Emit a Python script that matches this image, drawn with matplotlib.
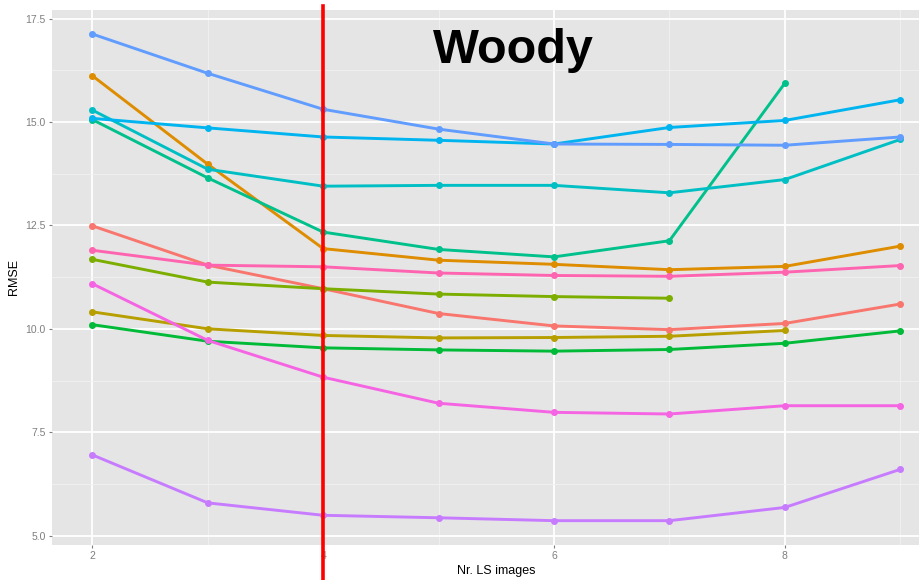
import matplotlib
matplotlib.use("Agg")
import matplotlib.pyplot as plt
import numpy as np

plt.rcParams['font.family'] = ['Liberation Sans', 'DejaVu Sans']

# Number of LS images used
n_images = [2, 3, 4, 5, 6, 7, 8, 9]

# RMSE per model run (runs that stop early are shorter)
rmse_a = [12.49, 11.54, 10.97, 10.37, 10.07, 9.98, 10.13, 10.60]
rmse_b = [16.12, 13.98, 11.94, 11.66, 11.56, 11.43, 11.51, 12.00]
rmse_c = [10.41, 10.00, 9.84, 9.78, 9.79, 9.82, 9.96]
rmse_d = [11.68, 11.13, 10.97, 10.84, 10.78, 10.74]
rmse_e = [10.10, 9.70, 9.54, 9.49, 9.46, 9.50, 9.65, 9.95]
rmse_f = [15.06, 13.65, 12.34, 11.92, 11.74, 12.13, 15.94]
rmse_g = [15.29, 13.86, 13.45, 13.47, 13.47, 13.29, 13.61, 14.58]
rmse_h = [15.09, 14.86, 14.64, 14.56, 14.47, 14.87, 15.04, 15.54]
rmse_i = [17.13, 16.18, 15.31, 14.83, 14.47, 14.46, 14.44, 14.64]
rmse_j = [6.95, 5.79, 5.49, 5.43, 5.36, 5.36, 5.68, 6.60]
rmse_k = [11.09, 9.72, 8.83, 8.20, 7.98, 7.94, 8.14, 8.14]
rmse_l = [11.90, 11.54, 11.50, 11.35, 11.29, 11.27, 11.37, 11.53]

series = [rmse_a, rmse_b, rmse_c, rmse_d, rmse_e, rmse_f,
          rmse_g, rmse_h, rmse_i, rmse_j, rmse_k, rmse_l]
colors = ['#F8766D', '#DE8C00', '#B79F00', '#7CAE00', '#00BA38', '#00C08B',
          '#00BFC4', '#00B4F0', '#619CFF', '#C77CFF', '#F564E3', '#FF64B0']

x_ticks = [2, 4, 6, 8]
y_ticks = [5.0, 7.5, 10.0, 12.5, 15.0, 17.5]
cutoff = 4
title = "Woody"

W, H = 919, 580
fig = plt.figure(figsize=(W / 100, H / 100), dpi=100)
ax_left, ax_bottom = 52 / W, 35 / H
ax_width, ax_height = 888.6 / W, 535.3 / H
ax = fig.add_axes([ax_left, ax_bottom, ax_width, ax_height])
ax.set_facecolor('#E5E5E5')
for s in ax.spines.values():
    s.set_visible(False)

# ggplot-style 5% expansion of the data range
all_vals = np.concatenate([np.asarray(s) for s in series])
ymin, ymax = all_vals.min(), all_vals.max()
ypad = 0.05 * (ymax - ymin)
xpad = 0.05 * (max(n_images) - min(n_images))
ax.set_xlim(min(n_images) - xpad, max(n_images) + xpad)
ax.set_ylim(ymin - ypad, ymax + ypad)

ax.set_xticks(x_ticks)
ax.set_xticks([3, 5, 7, 9], minor=True)
ax.set_yticks(y_ticks)
ax.set_yticklabels([f"{v:.1f}" for v in y_ticks])
ax.set_yticks([6.25, 8.75, 11.25, 13.75, 16.25], minor=True)
ax.grid(which='major', color='white', linewidth=1.3, zorder=0)
ax.grid(which='minor', color='#F2F2F2', linewidth=0.6, zorder=0)
ax.set_axisbelow(True)
ax.tick_params(which='major', length=2.5, width=0.8, color='#7F7F7F',
               labelcolor='#7F7F7F', labelsize=7.5, pad=2)
ax.tick_params(which='minor', length=0)

for vals, c in zip(series, colors):
    xs = n_images[:len(vals)]
    ax.plot(xs, vals, color=c, linewidth=2.1, marker='o', markersize=4,
            solid_capstyle='round', zorder=3)

ax.set_xlabel("Nr. LS images", fontsize=9, labelpad=3)
ax.set_ylabel("RMSE", fontsize=9, labelpad=4)

ax.text(5.65, 16.43, title, fontsize=35, fontweight='bold', ha='center',
        va='baseline', color='black', zorder=5)

# vertical marker running from the top of the figure to its bottom edge
top_frac = (1 - 6 / H - ax_bottom) / ax_height
bot_frac = -ax_bottom / ax_height
ax.axvline(cutoff, ymin=bot_frac, ymax=top_frac, color='#FF0000',
           linewidth=2.6, clip_on=False, zorder=10)

fig.savefig("out.png", dpi=100)
